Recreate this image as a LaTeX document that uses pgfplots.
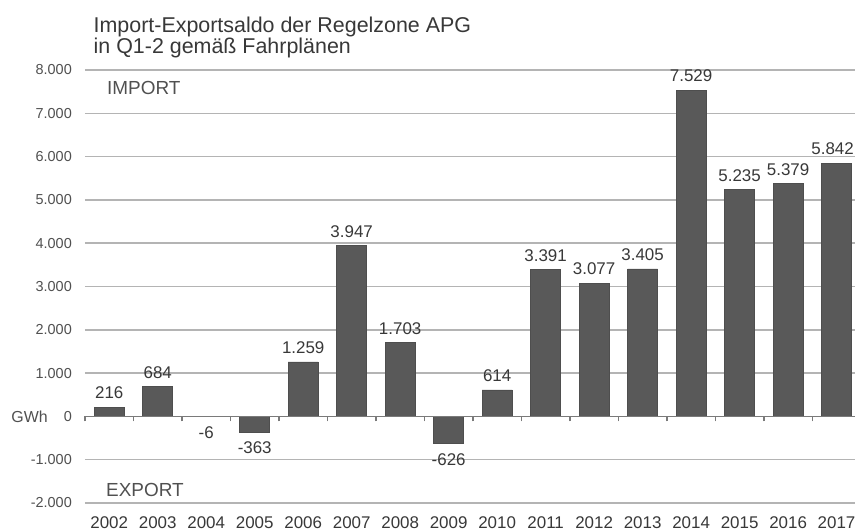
\documentclass[border=0pt]{standalone}
\usepackage{pgfplots}
\pgfplotsset{compat=1.18}
\usepackage{pgfplotstable}
\usepackage{fontspec}
\setmainfont{Liberation Sans}
\definecolor{barc}{HTML}{595959}
\definecolor{gridc}{HTML}{B4B4B4}
\definecolor{txt}{HTML}{383838}
\definecolor{tickc}{HTML}{505050}
\definecolor{zeroc}{HTML}{7A7A7A}

\pgfplotstableread{
x y lab
0 216 216
1 684 684
4 1259 1.259
5 3947 3.947
6 1703 1.703
8 614 614
9 3391 3.391
10 3077 3.077
11 3405 3.405
12 7529 7.529
13 5235 5.235
14 5379 5.379
}\pos

\pgfplotstableread{
x y lab
15 5842 5.842
}\last

\pgfplotstableread{
x y lab
2 -6 -6
3 -363 -363
7 -626 -626
}\neg

\pgfplotsset{common/.style={
  scale only axis, width=770bp, height=433bp,
  xmin=-0.5, xmax=15.38, ymin=-2000, ymax=8000,
}}

\begin{document}
\begin{tikzpicture}
\begin{axis}[common, name=main,
  axis line style={draw=none},
  /pgf/number format/assume math mode=true,
  ytick={-2000,-1000,0,1000,2000,3000,4000,5000,6000,7000,8000},
  yticklabels={-2.000,-1.000,0,1.000,2.000,3.000,4.000,5.000,6.000,7.000,8.000},
  ymajorgrids, grid style={gridc, line width=1.5bp},
  major tick length=0pt,
  xtick={0,...,15},
  xticklabels={2002,2003,2004,2005,2006,2007,2008,2009,2010,2011,2012,2013,2014,2015,2016,2017},
  x tick label style={font=\fontsize{17}{19}\selectfont, text=txt, inner sep=0pt, yshift=-13.5bp},
  y tick label style={font=\fontsize{14.5}{16}\selectfont, text=tickc, inner sep=0pt, xshift=-13bp},
  ybar, bar width=30bp, bar shift=0pt,
  nodes near coords, point meta=explicit symbolic,
  every node near coord/.append style={font=\fontsize{17}{19}\selectfont, text=txt, inner ysep=8bp, inner xsep=0pt},
  clip=false,
]
\addplot[fill=barc, draw=barc!88!black, line width=0.6bp] table[x=x,y=y,meta=lab]{\pos};
\addplot[fill=barc, draw=barc!88!black, line width=0.6bp,
  every node near coord/.append style={xshift=-4bp}] table[x=x,y=y,meta=lab]{\last};
\addplot[fill=barc, draw=barc!88!black, line width=0.6bp,
  every node near coord/.append style={anchor=north, inner ysep=9.5bp}] table[x=x,y=y,meta=lab]{\neg};
\node[anchor=west, inner sep=0pt, font=\fontsize{19}{21}\selectfont, text=tickc] at (axis cs:-0.046,7575) {IMPORT};
\node[anchor=west, inner sep=0pt, font=\fontsize{19}{21}\selectfont, text=tickc] at (axis cs:-0.067,-1700) {EXPORT};
\node[anchor=east, inner sep=0pt, font=\fontsize{16}{18}\selectfont, text=tickc] at (axis cs:-1.263,-20) {GWh};
\node[anchor=base west, inner sep=0pt, font=\fontsize{21.5}{24}\selectfont, text=txt] at ([xshift=8.5bp,yshift=37bp]rel axis cs:0,1) {Import-Exportsaldo der Regelzone APG};
\node[anchor=base west, inner sep=0pt, font=\fontsize{21.5}{24}\selectfont, text=txt] at ([xshift=8.5bp,yshift=16bp]rel axis cs:0,1) {in Q1-2 gemäß Fahrplänen};
\end{axis}
\begin{axis}[common,
  axis x line=middle, axis y line=none,
  x axis line style={-, draw=zeroc, line width=1.3bp},
  xtick={-0.5,0.5,...,14.5}, xticklabels={}, ytick=\empty,
  tick align=outside, major tick length=5bp,
  xtick style={draw=zeroc, line width=1.3bp},
]
\addplot[draw=none] coordinates {(0,0)};
\end{axis}
\pgfresetboundingbox
\path[use as bounding box] ([xshift=-85bp,yshift=-28bp]main.south west) rectangle ([yshift=70bp]main.north east);
\end{tikzpicture}
\end{document}
